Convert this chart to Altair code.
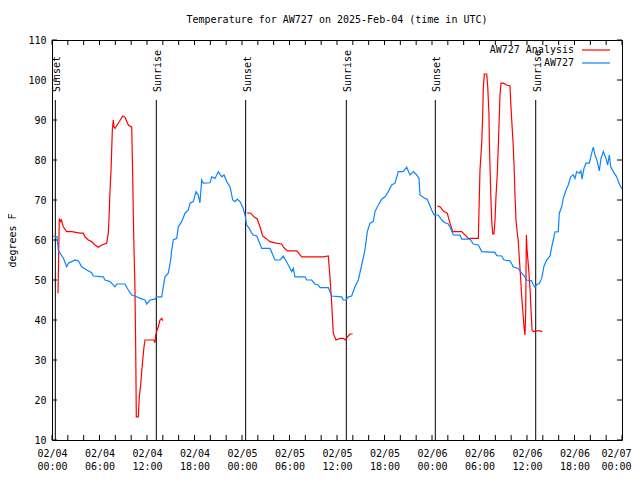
import altair as alt
import pandas as pd

# ---------------- data ----------------
series_names = ["AW727 Analysis", "AW727"]
series_colors = ["#ff0000", "#0a84ff"]

# hours since 2025-02-04 00:00 UTC and temperature (F)
blue_h = [0.13, 0.63, 0.80, 1.01, 1.43, 1.86, 2.06, 2.49, 2.91, 3.32, 3.75, 4.38, 5.01, 5.22, 6.48, 6.69,
          7.33, 7.96, 8.17, 9.22, 9.64, 10.07, 10.70, 11.12, 11.75, 11.96, 12.38, 13.01, 13.22, 13.86,
          14.06, 14.27, 14.69, 14.99, 15.12, 15.32, 15.75, 15.95, 16.38, 16.80, 17.22, 17.43, 17.85,
          18.19, 18.48, 18.69, 18.91, 19.11, 19.96, 20.17, 20.59, 21.01, 21.44, 21.73, 22.07, 22.49,
          22.83, 23.12, 23.41, 23.75, 24.16, 24.38, 24.59, 24.92, 25.23, 25.43, 25.86, 26.49, 27.54,
          28.17, 28.80, 29.22, 29.85, 30.28, 30.48, 30.69, 31.96, 32.17, 32.80, 33.22, 33.64, 33.85,
          34.90, 35.11, 35.33, 36.59, 36.79, 37.13, 37.43, 37.85, 38.27, 38.69, 39.12, 39.53, 39.83,
          40.17, 40.58, 40.80, 41.22, 41.65, 42.06, 42.48, 42.91, 43.33, 43.74, 44.37, 44.80, 45.22,
          45.64, 46.07, 46.36, 46.48, 47.11, 47.40, 47.96, 48.25, 48.79, 49.22, 49.64, 50.06, 50.36,
          50.69, 51.54, 51.75, 52.80, 53.22, 53.85, 54.28, 55.96, 56.17, 56.80, 57.09, 57.85, 58.27,
          58.90, 59.33, 59.75, 59.96, 60.59, 60.80, 61.01, 61.22, 61.55, 61.86, 62.15, 62.49, 62.91,
          63.12, 63.32, 63.53, 63.95, 64.08, 64.38, 64.58, 64.80, 65.01, 65.21, 65.52, 65.85, 66.06,
          66.28, 66.61, 66.82, 66.95, 67.20, 67.45, 67.87, 68.17, 68.38, 68.59, 68.88, 69.13, 69.35,
          69.64, 69.98, 70.19, 70.40, 70.57, 70.90, 71.33, 71.53, 71.83, 72.00]
blue_t = [61.0, 60.8, 57.5, 56.7, 55.5, 53.3, 54.2, 54.6, 55.0, 54.8, 53.3, 52.5, 51.8, 51.0, 50.8, 50.0,
          49.6, 48.3, 49.0, 49.0, 47.5, 46.25, 45.8, 45.4, 45.0, 44.0, 45.0, 45.2, 45.8, 45.8,
          48.3, 50.8, 51.7, 55.0, 57.5, 60.0, 60.4, 63.3, 64.6, 66.7, 67.5, 69.2, 69.6,
          72.1, 71.25, 69.3, 75.0, 74.2, 74.3, 75.8, 75.4, 77.1, 75.8, 76.25, 74.6, 73.3,
          70.0, 69.6, 70.2, 69.6, 67.9, 66.25, 63.75, 62.9, 61.7, 61.25, 61.0, 57.9, 57.9,
          55.0, 55.0, 56.0, 53.75, 52.1, 52.9, 50.8, 50.8, 50.0, 50.0, 49.0, 48.75, 48.1,
          48.1, 47.1, 46.0, 45.8, 45.0, 45.0, 45.8, 46.0, 48.3, 50.0, 53.75, 57.5, 62.1,
          64.2, 64.6, 67.1, 68.75, 70.2, 70.8, 72.1, 73.75, 74.2, 77.1, 77.1, 78.2, 76.25,
          77.1, 76.25, 75.4, 71.25, 70.4, 70.2, 67.5, 66.25, 66.25, 65.0, 64.3, 64.0, 62.9,
          61.25, 61.2, 60.2, 60.2, 59.0, 58.75, 57.1, 56.9, 56.1, 56.0, 55.0, 54.8, 53.3,
          52.9, 51.7, 50.8, 50.0, 49.8, 48.75, 48.2, 48.9, 49.1, 50.4, 53.5, 55.0, 56.0,
          58.3, 60.0, 62.0, 62.1, 66.7, 68.3, 70.4, 71.7, 72.9, 73.75, 75.8, 76.25, 75.4,
          77.1, 76.7, 77.3, 75.2, 77.9, 79.2, 79.2, 81.7, 83.2, 81.25, 79.6, 77.3, 80.4,
          82.1, 80.4, 78.75, 81.25, 78.3, 77.1, 75.8, 74.6, 73.3, 72.8]

red1_h = [0.76, 0.92, 1.10, 1.20, 1.43, 1.86, 2.49, 3.54, 3.95, 4.17, 4.59, 5.01, 5.43, 5.85, 6.28, 6.91,
          7.11, 7.24, 7.33, 7.45, 7.54, 7.62, 7.74, 7.83, 7.96, 8.37, 8.93, 9.22, 9.64, 10.07, 10.13,
          10.19, 10.27, 10.36, 10.45, 10.48, 10.57, 10.65, 10.90, 11.03, 11.20, 11.33, 11.46, 11.62,
          11.75, 12.88, 13.01, 13.10, 13.22, 13.43, 13.64, 13.86, 13.98]
red1_t = [46.7, 65.4, 64.6, 65.0, 63.3, 62.1, 62.1, 61.7, 61.7, 60.8, 60.0, 59.6, 58.75, 58.2, 58.75, 59.2,
          61.7, 67.1, 72.5, 77.1, 82.5, 87.5, 90.0, 88.3, 87.9, 89.2, 91.0, 90.7, 88.75, 88.2, 82.0,
          76.7, 66.7, 57.5, 50.4, 47.5, 33.3, 15.8, 15.8, 20.8, 23.75, 27.1, 30.0, 33.3,
          35.0, 35.0, 34.3, 36.25, 37.1, 38.3, 40.0, 40.4, 39.8]

red2_h = [24.67, 25.10, 25.52, 25.93, 26.27, 26.61, 27.03, 27.54, 28.17, 29.01, 29.22, 29.72, 30.91,
          31.54, 34.27, 34.90, 35.11, 35.33, 35.53, 35.87, 36.38, 36.79, 37.01, 37.30, 37.64, 37.98]
red2_t = [66.8, 66.7, 65.8, 65.25, 63.3, 61.0, 60.4, 59.6, 59.3, 59.0, 58.3, 57.3, 57.3,
          55.8, 55.8, 56.0, 50.8, 44.2, 36.7, 35.0, 35.4, 35.4, 35.0, 35.7, 36.5, 36.5]

red3_h = [48.67, 49.01, 49.52, 49.93, 50.27, 50.61, 51.75, 52.59, 53.85, 53.98, 54.06, 54.28, 54.40,
          54.48, 54.61, 54.91, 55.04, 55.20, 55.24, 55.33, 55.42, 55.54, 55.67, 55.83, 55.96, 56.08,
          56.25, 56.38, 56.50, 56.59, 56.72, 57.01, 57.44, 57.85, 57.94, 58.07, 58.27, 58.40, 58.49,
          58.61, 58.78, 58.90, 59.03, 59.21, 59.33, 59.46, 59.62, 59.75, 59.84, 59.88, 59.92, 60.01,
          60.10, 60.22, 60.39, 60.51, 60.64, 60.80, 61.22, 61.64, 61.96]
red3_t = [68.5, 68.3, 67.1, 66.7, 64.2, 62.1, 62.1, 60.4, 60.4, 70.8, 77.5, 84.2, 90.8,
          97.9, 101.5, 101.5, 98.3, 91.25, 85.0, 78.3, 71.7, 65.0, 61.5, 61.5, 65.0, 70.8,
          76.7, 83.75, 90.8, 96.25, 99.2, 99.2, 98.75, 98.5, 94.6, 90.0, 83.3, 76.7, 70.8,
          65.0, 61.7, 59.6, 55.4, 50.0, 45.8, 42.5, 38.3, 36.25, 42.5, 52.5, 61.25, 57.5,
          55.4, 52.5, 47.5, 42.5, 37.5, 37.1, 37.3, 37.3, 37.1]

sun_labels = ["Sunset", "Sunrise", "Sunset", "Sunrise", "Sunset", "Sunrise"]
sun_h = [0.42, 13.18, 24.46, 37.18, 48.42, 61.10]

x_major = [0, 6, 12, 18, 24, 30, 36, 42, 48, 54, 60, 66, 72]
x_minor = [2, 4, 8, 10, 14, 16, 20, 22, 26, 28, 32, 34, 38, 40, 44, 46, 50, 52, 56, 58, 62, 64, 68, 70]
x_tick_labels = ["02/04 00:00", "02/04 06:00", "02/04 12:00", "02/04 18:00",
                 "02/05 00:00", "02/05 06:00", "02/05 12:00", "02/05 18:00",
                 "02/06 00:00", "02/06 06:00", "02/06 12:00", "02/06 18:00",
                 "02/07 00:00"]
y_ticks = [10, 20, 30, 40, 50, 60, 70, 80, 90, 100, 110]

title_text = "Temperature for AW727 on 2025-Feb-04 (time in UTC)"
y_title = "degrees F"

# ---------------- build tables ----------------
rows = []
for h, t in zip(red1_h, red1_t):
    rows.append({"h": h, "t": t, "series": series_names[0], "seg": "r1"})
for h, t in zip(red2_h, red2_t):
    rows.append({"h": h, "t": t, "series": series_names[0], "seg": "r2"})
for h, t in zip(red3_h, red3_t):
    rows.append({"h": h, "t": t, "series": series_names[0], "seg": "r3"})
for h, t in zip(blue_h, blue_t):
    rows.append({"h": h, "t": t, "series": series_names[1], "seg": "b"})
df = pd.DataFrame(rows)
sun_df = pd.DataFrame({"h": sun_h, "label": sun_labels})
major_df = pd.DataFrame({"h": x_major})
minor_df = pd.DataFrame({"h": x_minor})
ytick_df = pd.DataFrame({"t": y_ticks})

W, H = 570, 400
FONT = "DejaVu Sans Mono"

label_arr = "[" + ",".join("'" + s + "'" for s in x_tick_labels) + "]"
X = alt.X("h:Q",
          scale=alt.Scale(domain=[0, 72], nice=False, zero=False),
          axis=alt.Axis(values=x_major, labelExpr=f"split({label_arr}[round(datum.value/6)], ' ')",
                        ticks=False, tickSize=0, domain=False, grid=False, title=None,
                        labelFont=FONT, labelFontSize=10, labelColor="black", labelPadding=8,
                        labelLineHeight=13, labelAngle=0, labelAlign="center", labelBaseline="top",
                        labelOffset={"condition": {"test": "datum.value >= 72", "value": -6}, "value": 0},
                        labelOverlap=False, labelFlush=False))
Y = alt.Y("t:Q",
          scale=alt.Scale(domain=[10, 110], nice=False, zero=False),
          axis=alt.Axis(values=y_ticks, ticks=False, tickSize=0, domain=False, grid=False,
                        title=y_title, titleFont=FONT, titleFontSize=10, titleFontWeight="normal",
                        titleColor="black", titleAngle=270, titleX=-40, titleY=H / 2,
                        titleAlign="center", titleBaseline="middle",
                        labelFont=FONT, labelFontSize=10, labelColor="black", labelPadding=6))

lines = alt.Chart(df).mark_line(strokeWidth=1.2, interpolate="linear").encode(
    x=X, y=Y,
    color=alt.Color("series:N", scale=alt.Scale(domain=series_names, range=series_colors), legend=None),
    detail="seg:N",
    order="h:Q",
)

sun_rules = alt.Chart(sun_df).mark_rule(color="black", strokeWidth=1).encode(
    x=X, y=alt.value(60), y2=alt.value(H))
sun_text = alt.Chart(sun_df).mark_text(angle=270, align="left", baseline="middle", dy=2,
                                       font=FONT, fontSize=10, color="black").encode(
    x=X, y=alt.value(52), text="label:N")

tick_len = 5
bot_major = alt.Chart(major_df).mark_rule(color="black").encode(x=X, y=alt.value(H), y2=alt.value(H - tick_len))
top_major = alt.Chart(major_df).mark_rule(color="black").encode(x=X, y=alt.value(0), y2=alt.value(tick_len))
bot_minor = alt.Chart(minor_df).mark_rule(color="black").encode(x=X, y=alt.value(H), y2=alt.value(H - tick_len))
top_minor = alt.Chart(minor_df).mark_rule(color="black").encode(x=X, y=alt.value(0), y2=alt.value(tick_len))
left_t = alt.Chart(ytick_df).mark_rule(color="black").encode(y=Y, x=alt.value(0), x2=alt.value(tick_len))
right_t = alt.Chart(ytick_df).mark_rule(color="black").encode(y=Y, x=alt.value(W - tick_len), x2=alt.value(W))

leg_layers = []
for i, (name, col) in enumerate(zip(series_names, series_colors)):
    ly = 10 + 13 * i
    ldf = pd.DataFrame({"series": [name]})
    leg_layers.append(alt.Chart(ldf).mark_text(align="right", baseline="middle", font=FONT, fontSize=10,
                                               color="black").encode(
        x=alt.value(522), y=alt.value(ly), text="series:N"))
    leg_layers.append(alt.Chart(ldf).mark_rule(color=col, strokeWidth=1.2).encode(
        x=alt.value(530), x2=alt.value(558), y=alt.value(ly)))

chart = alt.layer(sun_rules, sun_text, bot_major, top_major, bot_minor, top_minor, left_t, right_t,
                  lines, *leg_layers).properties(
    width=W, height=H,
    title=alt.TitleParams(title_text, font=FONT, fontSize=10, fontWeight="normal", color="black",
                          anchor="middle", offset=10),
    autosize=alt.AutoSizeParams(type="none"),
    padding={"left": 44, "top": 32, "right": 10, "bottom": 30},
    background="white",
).configure_view(stroke="black", strokeWidth=1)

chart.save("out.html", embed_options={"renderer": "svg", "actions": False})
